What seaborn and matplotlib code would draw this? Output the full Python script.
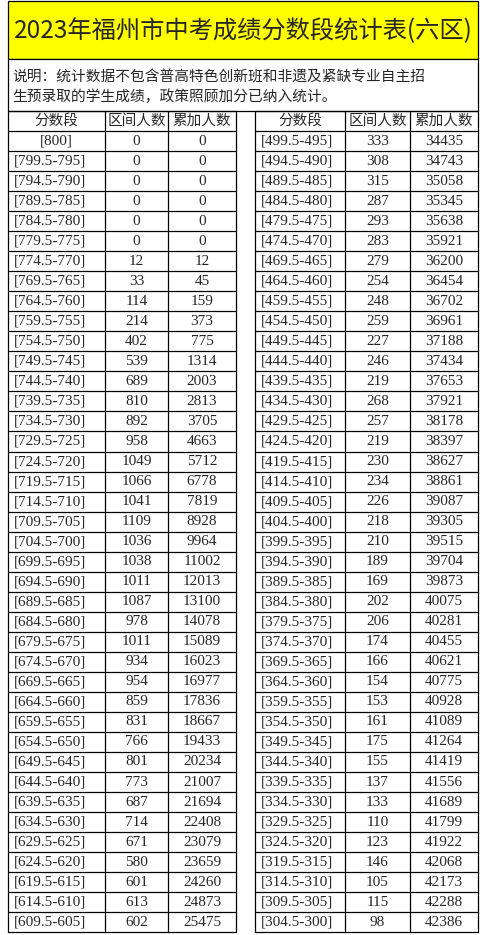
import matplotlib
matplotlib.use("Agg")
import matplotlib.pyplot as plt
import seaborn as sns

sns.set_theme(style="white")
plt.rcParams['font.family'] = ['Noto Sans CJK SC', 'DejaVu Sans']

title = "2023年福州市中考成绩分数段统计表(六区)"
note = ["说明：统计数据不包含普高特色创新班和非遗及紧缺专业自主招",
        "生预录取的学生成绩，政策照顾加分已纳入统计。"]
headers = ["分数段", "区间人数", "累加人数"]

left_bins = ["[800]"] + [f"[{799.5-5*i:.1f}-{795-5*i}]" for i in range(39)]
left_count = [0,0,0,0,0,0,12,33,114,214,402,539,689,810,892,958,1049,1066,1041,1109,
              1036,1038,1011,1087,978,1011,934,954,859,831,766,801,773,687,714,671,580,601,613,602]
left_cum = [0,0,0,0,0,0,12,45,159,373,775,1314,2003,2813,3705,4663,5712,6778,7819,8928,
            9964,11002,12013,13100,14078,15089,16023,16977,17836,18667,19433,20234,21007,21694,
            22408,23079,23659,24260,24873,25475]
right_bins = [f"[{499.5-5*i:.1f}-{495-5*i}]" for i in range(40)]
right_count = [333,308,315,287,293,283,279,254,248,259,227,246,219,268,257,219,230,234,226,218,
               210,189,169,202,206,174,166,154,153,161,175,155,137,133,110,123,146,105,115,98]
right_cum = [34435,34743,35058,35345,35638,35921,36200,36454,36702,36961,37188,37434,37653,37921,
             38178,38397,38627,38861,39087,39305,39515,39704,39873,40075,40281,40455,40621,40775,
             40928,41089,41264,41419,41556,41689,41799,41922,42068,42173,42288,42386]

W, H = 484, 935
fig = plt.figure(figsize=(W/100, H/100), dpi=100)
ax = fig.add_axes([0, 0, 1, 1])
ax.set_xlim(0, W); ax.set_ylim(H, 0); ax.axis("off")

lw = 0.9
ax.add_patch(plt.Rectangle((8, 1), 470, 58, facecolor="#FFFF00", edgecolor="black", lw=lw))
ax.text(243, 31, title, ha="center", va="center", fontsize=17.5)
ax.add_patch(plt.Rectangle((8, 59), 470, 52, facecolor="white", edgecolor="black", lw=lw))
ax.text(12, 77, note[0], ha="left", va="center", fontsize=10.6)
ax.text(12, 97, note[1], ha="left", va="center", fontsize=10.6)

top = 111
rh = 20.03
nrows = 41
xs = [8, 105, 168, 236, 255, 345, 410, 478]
bottom = top + rh*nrows
for x in xs:
    ax.plot([x, x], [top, bottom], color="black", lw=lw)
for r in range(nrows+1):
    y = top + r*rh
    ax.plot([xs[0], xs[3]], [y, y], color="black", lw=lw)
    ax.plot([xs[4], xs[7]], [y, y], color="black", lw=lw)

fs = 11
nf = "Liberation Serif"
def cols(x0, x1, x2, x3, bins, cnt, cum):
    yc = top + rh/2
    for h, a, b in zip(headers, [x0, x1, x2], [x1, x2, x3]):
        ax.text((a+b)/2, yc, h, ha="center", va="center", fontsize=10.5)
    for i, (bn, c, cu) in enumerate(zip(bins, cnt, cum)):
        y = top + rh*(i+1) + rh/2
        if bn == "[800]":
            ax.text((x0+x1)/2, y, bn, ha="center", va="center", fontsize=fs, family=nf)
        else:
            ax.text(x0+6, y, bn, ha="left", va="center", fontsize=fs, family=nf)
        ax.text((x1+x2)/2, y, str(c), ha="center", va="center", fontsize=fs, family=nf)
        ax.text((x2+x3)/2, y, str(cu), ha="center", va="center", fontsize=fs, family=nf)

cols(xs[0], xs[1], xs[2], xs[3], left_bins, left_count, left_cum)
cols(xs[4], xs[5], xs[6], xs[7], right_bins, right_count, right_cum)

fig.savefig("out.png", dpi=100)
